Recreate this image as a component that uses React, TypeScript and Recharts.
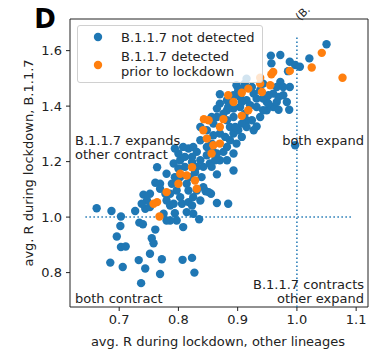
import React from "react";
import { ReferenceArea, ReferenceLine, Legend, Scatter, ScatterChart, XAxis, YAxis, Label } from "recharts";

// [avg R other lineages, avg R B.1.1.7]
const notDetected: [number, number][] = [
    [0.662, 1.032], [0.687, 1.022], [0.703, 1.002], [0.702, 0.968], [0.696, 0.93], [0.703, 0.892],
    [0.711, 0.894], [0.685, 0.836], [0.706, 0.82], [0.727, 1.022], [0.734, 0.98], [0.74, 0.974],
    [0.744, 1.03], [0.741, 1.081], [0.733, 0.845], [0.744, 0.815], [0.737, 0.762], [0.755, 0.924],
    [0.758, 0.906], [0.761, 0.955], [0.752, 0.868], [0.769, 0.795], [0.772, 0.848], [0.764, 1.18],
    [0.752, 1.084], [0.761, 1.124], [0.769, 1.12], [0.78, 1.06], [0.786, 1.042], [0.794, 1.014],
    [0.797, 0.988], [0.808, 0.964], [0.807, 0.846], [0.823, 0.853], [0.827, 0.8], [0.814, 1.018],
    [0.835, 0.992], [0.831, 1.096], [0.846, 1.093], [0.855, 1.084], [0.865, 1.051], [0.884, 1.048],
    [0.865, 1.154], [0.893, 1.168], [0.956, 1.582], [0.972, 1.584], [0.957, 1.554], [0.988, 1.56],
    [0.997, 1.548], [1.005, 1.542], [1.021, 1.572], [1.05, 1.623], [0.972, 1.487], [0.988, 1.469],
    [0.969, 1.433], [0.987, 1.387], [0.949, 1.415], [0.96, 1.397], [0.969, 1.387], [0.997, 1.259],
    [0.932, 1.327], [0.915, 1.349], [0.907, 1.289], [0.893, 1.301], [0.87, 1.443], [0.898, 1.475],
    [0.901, 1.457], [0.769, 1.102], [0.778, 1.084], [0.789, 1.12], [0.794, 1.144], [0.792, 1.193],
    [0.803, 1.205], [0.8, 1.229], [0.811, 1.217], [0.817, 1.247], [0.825, 1.253], [0.831, 1.235],
    [0.837, 1.205], [0.842, 1.181], [0.828, 1.162], [0.814, 1.12], [0.803, 1.072], [0.792, 1.048],
    [0.806, 1.048], [0.817, 1.054], [0.825, 1.072], [0.842, 1.108], [0.851, 1.09], [0.839, 1.144],
    [0.811, 1.181], [0.837, 1.325], [0.848, 1.313], [0.859, 1.337], [0.865, 1.361], [0.876, 1.373],
    [0.882, 1.349], [0.887, 1.325], [0.893, 1.361], [0.901, 1.313], [0.898, 1.265], [0.882, 1.253],
    [0.876, 1.235], [0.865, 1.229], [0.87, 1.205], [0.887, 1.277], [0.87, 1.301], [0.859, 1.295],
    [0.856, 1.265], [0.893, 1.229], [0.882, 1.205], [0.848, 1.223], [0.915, 1.325], [0.912, 1.373],
    [0.904, 1.397], [0.87, 1.409], [0.882, 1.421], [0.893, 1.439], [0.904, 1.433], [0.915, 1.421],
    [0.927, 1.445], [0.938, 1.457], [0.943, 1.427], [0.952, 1.409], [0.96, 1.445], [0.966, 1.469],
    [0.977, 1.439], [0.983, 1.415], [0.949, 1.385], [0.932, 1.397], [0.924, 1.469], [0.912, 1.481],
    [0.893, 1.391], [0.882, 1.385], [0.907, 1.463], [0.915, 1.499], [0.752, 1.036], [0.775, 1.012],
    [0.786, 0.988], [0.823, 1.042], [0.78, 1.156], [0.803, 1.144], [0.823, 1.199], [0.837, 1.277],
    [0.851, 1.253], [0.794, 1.247], [0.985, 1.526], [0.8, 1.175], [0.82, 1.144], [0.831, 1.181],
    [0.853, 1.193], [0.862, 1.205], [0.856, 1.181], [0.848, 1.253], [0.859, 1.235], [0.879, 1.289],
    [0.896, 1.325], [0.907, 1.337], [0.924, 1.349], [0.927, 1.313], [0.938, 1.361], [0.943, 1.385],
    [0.932, 1.427], [0.921, 1.403], [0.907, 1.415], [0.884, 1.397], [0.865, 1.391], [0.856, 1.361],
    [0.823, 1.217], [0.808, 1.253], [0.797, 1.096], [0.786, 1.084], [0.817, 1.096], [0.837, 1.06],
    [0.747, 1.06], [0.738, 1.048], [0.78, 0.988], [0.825, 1.012], [0.966, 1.415], [0.977, 1.469],
    [0.943, 1.481], [0.952, 1.439],
];

const detectedPrior: [number, number][] = [
    [1.077, 1.502], [1.042, 1.592], [1.025, 1.539], [0.988, 1.527], [0.957, 1.515], [0.955, 1.475],
    [0.938, 1.481], [0.918, 1.463], [0.907, 1.448], [0.884, 1.439], [0.893, 1.415], [0.907, 1.365],
    [0.918, 1.385], [0.876, 1.353], [0.87, 1.325], [0.843, 1.353], [0.851, 1.349], [0.842, 1.313],
    [0.848, 1.283], [0.859, 1.259], [0.87, 1.265], [0.856, 1.229], [0.823, 1.18], [0.814, 1.15],
    [0.803, 1.156], [0.8, 1.12], [0.828, 1.132], [0.831, 1.102], [0.78, 1.09], [0.764, 1.054],
    [0.758, 1.048], [0.768, 1.002], [0.938, 1.502], [0.96, 1.523], [0.941, 1.451],
];

const xTicks = [0.7, 0.8, 0.9, 1.0, 1.1];
const yTicks = [0.8, 1.0, 1.2, 1.4, 1.6];
const xDomain: [number, number] = [0.617, 1.12];
const yDomain: [number, number] = [0.676, 1.714];

const BLUE = "#1f77b4";
const ORANGE = "#ff7f0e";
const FONT = "DejaVu Sans";
const FS = 13;

const toPoints = (arr: [number, number][]) => arr.map(([x, y]) => ({ x, y }));

const dot = (color: string) => (p: any) => <circle cx={p.cx} cy={p.cy} r={4.2} fill={color} />;

const LegendBox = () => (
    <div
        style={{
            width: 186,
            height: 58,
            boxSizing: "border-box",
            border: "1px solid #d0d0d0",
            borderRadius: 3,
            background: "rgba(255,255,255,0.8)",
            position: "relative",
        }}
    >
        <svg width={186} height={58} style={{ position: "absolute", left: 0, top: 0 }}>
            <circle cx={20} cy={11} r={4.2} fill={BLUE} />
            <circle cx={20} cy={39} r={4.2} fill={ORANGE} />
            <text x={43} y={11} dominantBaseline="central" fontFamily={FONT} fontSize={FS} fill="#222">B.1.1.7 not detected</text>
            <text x={43} y={30} dominantBaseline="central" fontFamily={FONT} fontSize={FS} fill="#222">B.1.1.7 detected</text>
            <text x={43} y={45} dominantBaseline="central" fontFamily={FONT} fontSize={FS} fill="#222">prior to lockdown</text>
        </svg>
    </div>
);

export default function App() {
    const txt = { fontFamily: FONT, fontSize: FS, fill: "#222" };
    return (
        <div style={{ position: "absolute", left: 0, top: 0, width: 383, height: 361, fontFamily: FONT }}>
            <ScatterChart width={383} height={361} margin={{ top: 19, right: 15, bottom: 14, left: 20 }}>
                <XAxis
                    type="number"
                    dataKey="x"
                    domain={xDomain}
                    ticks={xTicks}
                    allowDataOverflow
                    height={40}
                    axisLine={false}
                    tickLine={{ stroke: "#222" }}
                    tickSize={4}
                    tickMargin={4}
                    tick={{ fontFamily: FONT, fontSize: FS, fill: "#222" }}
                    tickFormatter={(v: number) => v.toFixed(1)}
                >
                    <Label
                        content={() => (
                            <text x={218} y={341} textAnchor="middle" dominantBaseline="central" {...txt}>
                                avg. R during lockdown, other lineages
                            </text>
                        )}
                    />
                </XAxis>
                <YAxis
                    type="number"
                    dataKey="y"
                    domain={yDomain}
                    ticks={yTicks}
                    allowDataOverflow
                    width={50}
                    axisLine={false}
                    tickLine={{ stroke: "#222" }}
                    tickSize={4}
                    tickMargin={4}
                    tick={{ fontFamily: FONT, fontSize: FS, fill: "#222" }}
                    tickFormatter={(v: number) => v.toFixed(1)}
                >
                    <Label
                        content={() => (
                            <text
                                x={28}
                                y={163}
                                transform="rotate(-90 28 163)"
                                textAnchor="middle"
                                dominantBaseline="central"
                                {...txt}
                            >
                                avg. R during lockdown, B.1.1.7
                            </text>
                        )}
                    />
                </YAxis>
                <ReferenceLine
                    segment={[{ x: 0.643, y: 1.0 }, { x: 1.092, y: 1.0 }]}
                    stroke={BLUE}
                    strokeWidth={1.5}
                    strokeDasharray="1.5 2.5"
                />
                <ReferenceLine
                    segment={[{ x: 1.0, y: 0.676 }, { x: 1.0, y: 1.656 }]}
                    stroke={BLUE}
                    strokeWidth={1.5}
                    strokeDasharray="1.5 2.5"
                />
                <Scatter data={toPoints(notDetected)} fill={BLUE} shape={dot(BLUE)} isAnimationActive={false} />
                <Scatter data={toPoints(detectedPrior)} fill={ORANGE} shape={dot(ORANGE)} isAnimationActive={false} />
                <ReferenceArea
                    x1={xDomain[0]}
                    x2={xDomain[1]}
                    y1={yDomain[0]}
                    y2={yDomain[1]}
                    fill="none"
                    fillOpacity={0}
                    stroke="#222"
                    strokeWidth={1}
                />
                <Legend
                    layout="vertical"
                    align="center"
                    verticalAlign="middle"
                    content={() => <LegendBox />}
                    wrapperStyle={{ left: 77, top: 25, width: 186 }}
                />
            </ScatterChart>
            <svg width={383} height={361} style={{ position: "absolute", left: 0, top: 0, pointerEvents: "none" }}>
                <text x={45} y={28} textAnchor="middle" fontFamily={FONT} fontWeight="bold" fontSize={26} fill="#000">
                    D
                </text>
                <text x={300} y={21} transform="rotate(-45 300 21)" fontFamily={FONT} fontSize={11} fill="#222">
                    (B.
                </text>
                <text x={75} y={140} dominantBaseline="central" {...txt}>B.1.1.7 expands</text>
                <text x={75} y={154.5} dominantBaseline="central" {...txt}>other contract</text>
                <text x={364} y={140} textAnchor="end" dominantBaseline="central" {...txt}>both expand</text>
                <text x={364} y={284} textAnchor="end" dominantBaseline="central" {...txt}>B.1.1.7 contracts</text>
                <text x={364} y={298} textAnchor="end" dominantBaseline="central" {...txt}>other expand</text>
                <text x={75} y={298} dominantBaseline="central" {...txt}>both contract</text>
            </svg>
        </div>
    );
}
